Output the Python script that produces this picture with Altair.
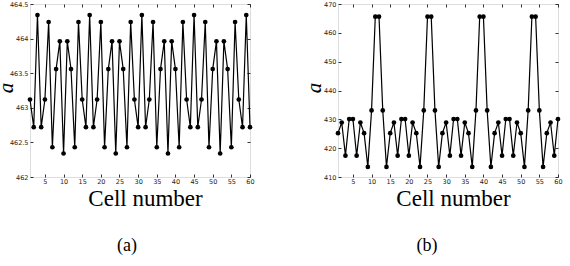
import altair as alt
import pandas as pd

cells = list(range(1, 61))

a_left = [
    463.12, 462.72, 464.34, 462.72, 463.12, 464.24, 462.43, 463.56, 463.96, 462.34,
    463.96, 463.56, 462.43, 464.24, 463.12, 462.72, 464.34, 462.72, 463.12, 464.24,
    462.43, 463.56, 463.96, 462.34, 463.96, 463.56, 462.43, 464.24, 463.12, 462.72,
    464.34, 462.72, 463.12, 464.24, 462.43, 463.56, 463.96, 462.34, 463.96, 463.56,
    462.43, 464.24, 463.12, 462.72, 464.34, 462.72, 463.12, 464.24, 462.43, 463.56,
    463.96, 462.34, 463.96, 463.56, 462.43, 464.24, 463.12, 462.72, 464.34, 462.72,
]

a_right = [
    425.2, 428.9, 417.4, 430.1, 430.1, 417.4, 428.9, 425.2, 413.5, 433.1,
    465.6, 465.6, 433.1, 413.5, 425.2, 428.9, 417.4, 430.1, 430.1, 417.4,
    428.9, 425.2, 413.5, 433.1, 465.6, 465.6, 433.1, 413.5, 425.2, 428.9,
    417.4, 430.1, 430.1, 417.4, 428.9, 425.2, 413.5, 433.1, 465.6, 465.6,
    433.1, 413.5, 425.2, 428.9, 417.4, 430.1, 430.1, 417.4, 428.9, 425.2,
    413.5, 433.1, 465.6, 465.6, 433.1, 413.5, 425.2, 428.9, 417.4, 430.1,
]

x_ticks = [5, 10, 15, 20, 25, 30, 35, 40, 45, 50, 55, 60]
y_ticks_left = [462, 462.5, 463, 463.5, 464, 464.5]
y_ticks_right = [410, 420, 430, 440, 450, 460, 470]

W, H = 220, 173


def panel(values, domain, yticks, caption, caption_dx):
    df = pd.DataFrame({"cell": cells, "a": values})
    base = alt.Chart(df)
    xs = alt.Scale(domain=[1, 60], nice=False, zero=False)
    ys = alt.Scale(domain=domain, nice=False, zero=False)
    common = dict(offset=-3, tickSize=3, tickColor="black", tickWidth=0.8,
                  domain=False, grid=False)
    x_bottom = alt.Axis(values=x_ticks, orient="bottom", format=".6~g",
                        labelFontSize=6.5, labelColor="#222", labelPadding=1.5,
                        labelFlush=False, labelOverlap=False,
                        labelFont="DejaVu Sans",
                        title="Cell number", titleFont="Liberation Serif",
                        titleFontSize=23, titleFontWeight="normal",
                        titleColor="black", titleX=W / 2 + 5, titleY=31,
                        titleBaseline="alphabetic", **common)
    x_top = alt.Axis(values=x_ticks, orient="top", labels=False, title=None,
                     **common)
    y_left = alt.Axis(values=yticks, orient="left", format=".6~g",
                      labelFontSize=6.5, labelColor="#222", labelPadding=2,
                      labelFlush=False, labelOverlap=False,
                      labelFont="DejaVu Sans", title="a",
                      titleFont="Liberation Serif", titleFontStyle="italic",
                      titleFontSize=21, titleFontWeight="normal",
                      titleColor="black", titleX=-21, titleY=H / 2 - 3,
                      titleBaseline="alphabetic", titleAngle=270, **common)
    y_right = alt.Axis(values=yticks, orient="right", labels=False, title=None,
                       **common)
    line = base.mark_line(color="black", strokeWidth=1.2).encode(
        x=alt.X("cell:Q", scale=xs, axis=x_bottom),
        y=alt.Y("a:Q", scale=ys, axis=y_left),
    )
    pts = base.mark_circle(color="black", size=22, opacity=1).encode(
        x=alt.X("cell:Q", scale=xs, axis=x_top),
        y=alt.Y("a:Q", scale=ys, axis=y_right),
    )
    return (
        alt.layer(line, pts)
        .resolve_axis(x="independent", y="independent")
        .properties(
            width=W,
            height=H,
            title=alt.TitleParams(caption, orient="bottom", anchor="middle",
                                  font="Liberation Serif", fontSize=18,
                                  fontWeight="normal", color="black",
                                  offset=27, dx=caption_dx),
        )
    )


left = panel(a_left, [462, 464.5], y_ticks_left, "(a)", -13)
right = panel(a_right, [410, 470], y_ticks_right, "(b)", -21)

chart = (
    alt.hconcat(left, right, spacing=88, bounds="flush")
    .properties(padding={"left": -6, "top": 0, "right": 0, "bottom": 0})
    .configure_view(stroke="black", strokeWidth=1)
    .configure(background="white")
)

chart.save("out.html", embed_options={"renderer": "svg", "actions": False})
